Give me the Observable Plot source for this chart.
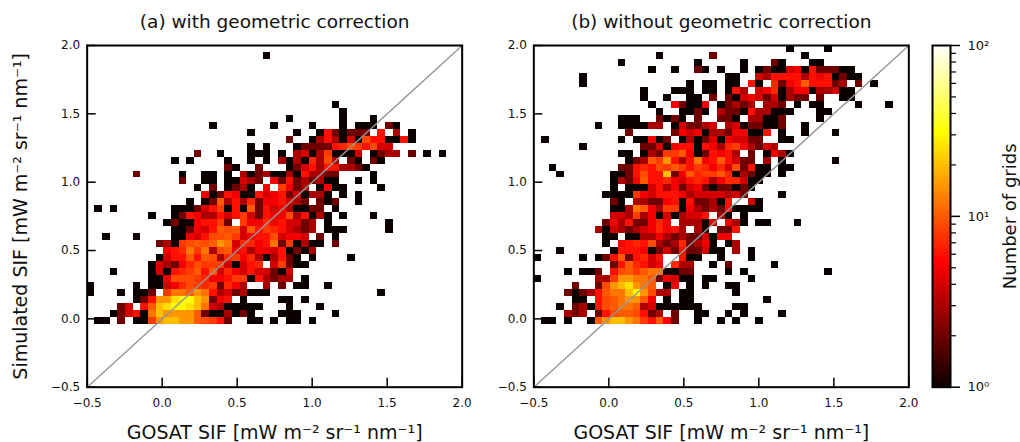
<!DOCTYPE html>
<html>
<head>
<meta charset="utf-8">
<script src="https://cdn.jsdelivr.net/npm/d3@7"></script>
<script src="https://cdn.jsdelivr.net/npm/@observablehq/plot@0.6"></script>
<style>
html,body{margin:0;padding:0;background:#fff;}
#wrap{position:relative;width:1020px;height:442px;overflow:hidden;}
#wrap svg{position:absolute;top:0;background:transparent;overflow:visible;}
</style>
</head>
<body>
<div id="wrap"></div>
<script>
// Level codes: "." empty, digits = count, letters = larger counts
const levelCounts = {a:10,b:12,c:15,d:20,e:25,f:30};
// [row, first column, level codes]; the grid has 49 x 49 bins between -0.5 and 2.0
const cellsA = [
[47,23,"1"],[40,32,"1"],[39,33,"1"],[38,26,"1"],[38,33,"1"],[38,37,"1"],
[37,16,"1"],[37,24,"1"],[37,29,"1"],[37,33,"1"],[37,35,"111"],[37,39,"21"],
[36,21,"1"],[36,27,"1"],[36,30,"1621222.6.3.1"],
[35,26,"2..13631419661161"],
[34,21,"1"],[34,23,"1"],[34,27,"1222267986944"],
[33,14,"2"],[33,17,"1"],[33,21,"111"],[33,25,"1"],[33,27,"341381114.1233.2.1.1"],
[32,11,"1.1"],[32,18,"1"],[32,21,"1.1"],[32,25,"31317393.21.21"],
[31,18,"21"],[31,22,"2"],[31,26,"12463663321"],
[30,6,"2"],[30,12,"1"],[30,15,"11.1.3123113163322"],[30,37,"1"],
[29,12,"2"],[29,15,"11.11432.526232311"],[29,35,"1.1"],
[28,14,"1.2.1231.5.8523.1511"],[28,38,"1"],
[27,15,"51265116456241331.1.1"],
[26,13,"1.12a36372556432.212"],[26,35,"1"],
[25,1,"1.1"],[25,11,"1112468161a264531122.1"],
[24,8,"1"],[24,11,"126533646842655936131.1"],[24,37,"1"],
[23,10,"121156682.8557564423.1"],[23,39,"1"],
[22,11,"112546a9a4a68764323.111"],[22,39,"1"],
[21,2,"1...1"],[21,11,"1154699a8456694554.2.1"],
[20,9,"23189a9acb47756b281311.2"],
[19,10,"567b8b39a56355461213"],
[18,9,"1466a6a937857313621.1"],[18,34,"1"],
[17,8,"143257988841467.48211"],
[16,3,"1"],[16,8,"141678a6a4754644214"],
[15,8,"1159998755688163233.1"],
[14,0,"1"],[14,6,"1.1145798782753..3.2.11"],[14,31,"1"],
[13,0,"1"],[13,4,"1.112.8bbacb63423111"],[13,38,"1"],
[12,6,"126cceffdc256.1"],[12,25,"11.1"],
[11,4,"24.6adeffedb4311111"],[11,26,"1...1"],
[10,3,"12461bdcccca2113121"],[10,25,"111"],[10,32,"1"],
[9,1,"11.2.118cddcca9862"],[9,21,"11.1.11.1"]
];
const cellsB = [
[48,33,"1"],[48,38,"1"],
[47,16,"1"],[47,23,"2"],[47,35,"1"],
[46,11,"1"],[46,21,"1"],[46,27,"1"],[46,31,"21"],[46,36,"11"],
[45,15,"1"],[45,18,"1"],[45,21,"21.1"],[45,27,"1.1211451622211"],
[44,6,"1"],[44,25,"11..43666636561211"],
[43,6,"1"],[43,20,"1.11.11.61.7256a66623.2.1"],
[42,14,"1...111.11.163.4571355133411"],
[41,14,"1..1..11.2.21454241322.2..11"],
[40,15,"1..52115.12323.332.1.11"],[40,42,"1...1"],
[39,16,"1..1121.3221633111"],[39,37,"11"],
[38,11,"111..2121.2..221.33112"],[38,37,"1"],
[37,8,"1"],[37,11,"111133.142234.34122112"],[37,35,"1"],
[36,12,"2"],[36,18,"2545133255116.1"],[36,35,"1"],[36,39,"1"],
[35,1,"1"],[35,11,"1.11512.13124154422..11"],
[34,6,"1"],[34,14,"224156616537853243"],
[33,11,"11.13288a5126563.2.1531"],
[32,12,"123a8c636b56a6422.3.1"],[32,39,"1"],
[31,2,"1"],[31,11,"2267698a868757492611.11"],
[30,3,"1"],[30,10,"1126966d25a788a713211.1"],
[29,10,"1325a667546763577411"],
[28,10,"1.11146352452122121"],
[27,9,"1111854666534444342"],[27,32,"1"],
[26,10,"21.3322561622316..41"],
[25,10,"113ba538815323261111"],
[24,10,"4438351413446.31.1"],
[23,9,"253622575.33314.531.11"],[23,34,"1"],
[22,8,"314323457563.31.226"],
[21,9,"11.11335323224155"],
[20,9,"1.5676932372351.13"],
[19,3,"1"],[19,10,"166651242622411.3.1"],
[18,0,"1"],[18,6,"1.126a26746..611..1...1"],
[17,10,"26a7645.733..1.2"],[17,31,"1"],
[16,4,"1.112.69a8abb1122"],[16,25,"1.1"],[16,38,"1"],
[15,0,"1"],[15,8,"338ccbba25411.11"],[15,28,"1"],
[14,5,"2"],[14,8,"29cdecba.15.1.1..11"],
[13,4,"21236abbdfc933.11"],[13,26,"1"],
[12,5,"11.69abcca5.1.11"],[12,30,"1"],
[11,3,"1.23169abba34111111"],[11,26,"11"],
[10,4,"323.269aa9623.2..11..1.1"],[10,32,"1"],
[9,1,"11.1..1acddcb86a52..1..1.1..1"]
];
const axisTicks = [-0.5,0,0.5,1,1.5,2];
const barMajor = [1,10,100];
const barMinor = [2,3,4,5,6,7,8,9,20,30,40,50,60,70,80,90];
const barLabels = {1:"10⁰",10:"10¹",100:"10²"};
const titleA = "(a) with geometric correction";
const titleB = "(b) without geometric correction";
const xLabel = "GOSAT SIF [mW m⁻² sr⁻¹ nm⁻¹]";
const yLabel = "Simulated SIF [mW m⁻² sr⁻¹ nm⁻¹]";
const barLabel = "Number of grids";

const FONT = "'DejaVu Sans'";
const binW = 2.5/49;
function expand(segs){
  const out=[];
  for(const [row,col,s] of segs){
    [...s].forEach((ch,i)=>{
      if(ch==="."){return;}
      const c = levelCounts[ch] ?? +ch;
      out.push({x1:-0.5+(col+i)*binW,x2:-0.5+(col+i+1)*binW,y1:-0.5+row*binW,y2:-0.5+(row+1)*binW,count:c});
    });
  }
  return out;
}
const hotScale = d3.scaleLinear().domain([0,0.365,0.746,1]).range(["#0b0000","#ff0000","#ffff00","#ffffff"]).clamp(true);
const hot = t => hotScale(t);
const colorOpt = {type:"log",domain:[1,100],interpolate:hot};
const fmt = d => (d<0?"−":"")+Math.abs(d).toFixed(1);

function panel(cells,title,left,width,mLeft,showY){
  const marks=[
    Plot.rect(expand(cells),{x1:"x1",x2:"x2",y1:"y1",y2:"y2",fill:"count",shapeRendering:"crispEdges"}),
    Plot.line([[-0.5,-0.5],[2,2]],{stroke:"#969696",strokeWidth:1.4}),
    Plot.axisX({ticks:axisTicks,tickSize:-9,tickPadding:20,tickFormat:fmt,label:null,fontSize:12,strokeWidth:1.5,stroke:"#000",color:"#111"}),
    Plot.axisY({ticks:axisTicks,tickSize:-9,tickPadding:16,tickFormat:fmt,label:null,fontSize:12,strokeWidth:1.5,stroke:"#000",color:"#111"}),
    Plot.frame({stroke:"#000",strokeWidth:2}),
    Plot.text([xLabel],{text:d=>d,frameAnchor:"bottom",dy:52,fontSize:19,fill:"#111"}),
    Plot.text([title],{text:d=>d,frameAnchor:"top",dy:-31,fontSize:18.5,fill:"#111"})
  ];
  if(showY) marks.push(Plot.text([yLabel],{text:d=>d,frameAnchor:"left",textAnchor:"middle",dx:-66,rotate:-90,fontSize:19,fill:"#111"}));
  const p=Plot.plot({
    width,height:442,marginLeft:mLeft,marginRight:width-mLeft-375,marginTop:45,marginBottom:55.3,
    style:{fontFamily:FONT,background:"transparent",overflow:"visible"},
    x:{domain:[-0.5,2],label:null},
    y:{domain:[-0.5,2],label:null},
    color:colorOpt,
    marks
  });
  p.style.left=left+"px";
  return p;
}
const wrap=document.getElementById("wrap");
wrap.appendChild(panel(cellsA,titleA,0,470,86.67,true));
wrap.appendChild(panel(cellsB,titleB,447,470,86.33,false));

// colour bar
const barLevels=d3.range(0,256).map(i=>({a:Math.pow(100,i/256),b:Math.pow(100,(i+1)/256)}));
const barPlot=Plot.plot({
  width:100,height:442,marginLeft:12,marginRight:70,marginTop:45,marginBottom:55.3,
  style:{fontFamily:FONT,background:"transparent",overflow:"visible"},
  x:{domain:[0,1],axis:null,label:null},
  y:{type:"log",domain:[1,100],label:null},
  color:colorOpt,
  marks:[
    Plot.rect(barLevels,{x1:0,x2:1,y1:"a",y2:"b",fill:d=>Math.sqrt(d.a*d.b),shapeRendering:"crispEdges"}),
    Plot.axisY({anchor:"right",ticks:barMinor,tickSize:5,tickFormat:()=>"",label:null,strokeWidth:1.2,stroke:"#000"}),
    Plot.axisY({anchor:"right",ticks:barMajor,tickSize:9,tickPadding:8,tickFormat:d=>barLabels[d],label:null,fontSize:13,strokeWidth:1.5,stroke:"#000",color:"#111"}),
    Plot.frame({stroke:"#000",strokeWidth:2}),
    Plot.text([barLabel],{text:d=>d,frameAnchor:"right",textAnchor:"middle",dx:60,rotate:-90,fontSize:18,fill:"#111"})
  ]
});
barPlot.style.left="920px";
wrap.appendChild(barPlot);
</script>
</body>
</html>
